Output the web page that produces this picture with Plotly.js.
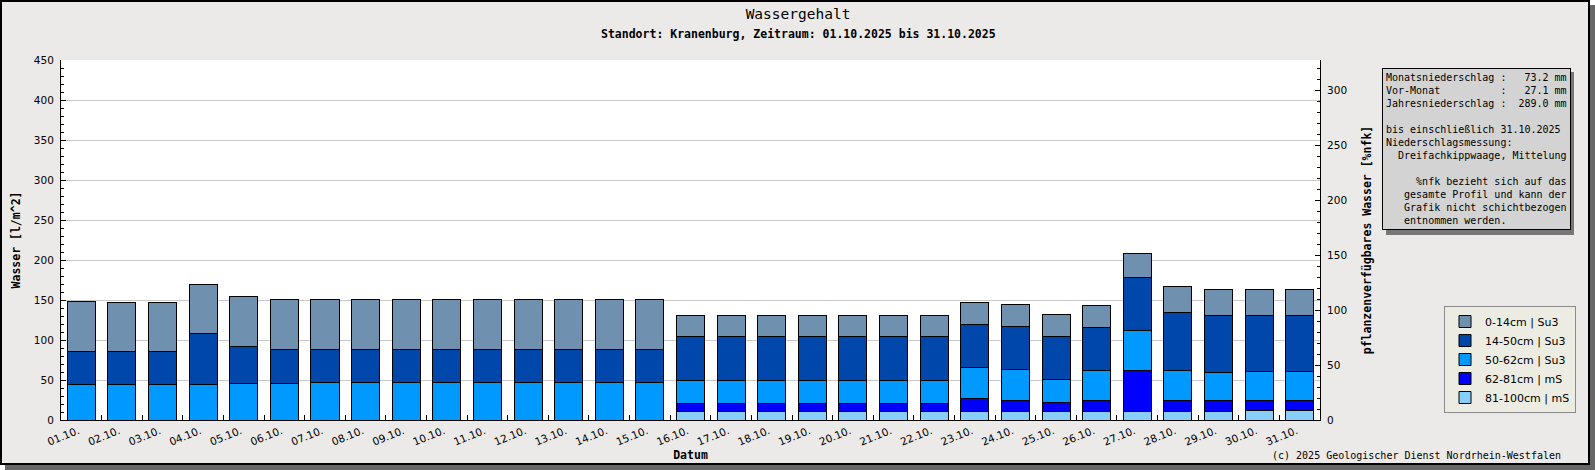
<!DOCTYPE html>
<html>
<head>
<meta charset="utf-8">
<script src="https://cdn.plot.ly/plotly-3.0.1.min.js"></script>
<style>
  body { margin: 0; background: #ffffff; }
  #frame {
    position: absolute; left: 0; top: 0;
    width: 1586px; height: 461px;
    border: 2px solid #000;
    box-shadow: 5px 5px 0 #666;
    background: #eceae8;
  }
  #chart { width: 1586px; height: 461px; }
</style>
</head>
<body>
<div id="frame"><div id="chart"></div></div>
<script>
var days = ['01.10.','02.10.','03.10.','04.10.','05.10.','06.10.','07.10.','08.10.','09.10.','10.10.',
            '11.10.','12.10.','13.10.','14.10.','15.10.','16.10.','17.10.','18.10.','19.10.','20.10.',
            '21.10.','22.10.','23.10.','24.10.','25.10.','26.10.','27.10.','28.10.','29.10.','30.10.','31.10.']

// water per layer [l/m^2], bottom layer first
var layer_81_100 = [0,0,0,0,0,0,0,0,0,0, 0,0,0,0,0,10.4,10.4,10.4,10.4,10.4,
                    10.4,10.4,10.4,10.4,10.4,10.4,10.4,10.4,10.4,11.7,11.7]
var layer_62_81  = [0,0,0,0,0,0,0,0,0,0, 0,0,0,0,0,10.4,10.4,10.4,10.4,10.4,
                    10.4,10.4,15.9,14.2,10.9,14.2,50.9,14.2,14.2,12.9,12.9]
var layer_50_62  = [44.2,44.2,44.2,44.2,45.8,45.8,47.1,47.1,47.1,47.1, 47.1,47.1,47.1,47.1,47.1,28.8,28.8,28.8,28.8,28.8,
                    28.8,28.8,39.6,38.7,29.6,37.5,50.9,37.5,35.0,36.2,36.2]
var layer_14_50  = [41.7,41.7,41.7,64.1,46.3,42.5,41.2,41.2,41.2,41.2, 41.2,41.2,41.2,41.2,41.2,54.8,54.8,54.8,54.8,54.8,
                    54.8,54.8,53.8,53.8,53.8,53.7,66.2,72.5,71.2,70.0,70.0]
var layer_0_14   = [62.5,61.2,61.2,61.3,62.5,62.5,62.5,62.5,62.5,62.5, 62.5,62.5,62.5,62.5,62.5,26.4,26.4,26.4,26.4,26.4,
                    26.4,26.4,27.5,27.5,27.5,27.5,30.0,32.5,32.5,32.5,32.5]

var layer_names  = ['81-100cm | mS','62-81cm | mS','50-62cm | Su3','14-50cm | Su3','0-14cm | Su3']
var layer_colors = ['#87cefa','#0000ff','#0099ff','#0047ab','#7090b0']
var layer_values = [layer_81_100, layer_62_81, layer_50_62, layer_14_50, layer_0_14]

var info_lines = [
    'Monatsniederschlag :   73.2 mm',
    'Vor-Monat          :   27.1 mm',
    'Jahresniederschlag :  289.0 mm',
    '',
    'bis einschließlich 31.10.2025',
    'Niederschlagsmessung:',
    '  Dreifachkippwaage, Mittelung',
    '',
    '     %nfk bezieht sich auf das',
    '   gesamte Profil und kann der',
    '   Grafik nicht schichtbezogen',
    '   entnommen werden.'
]

// plot area in page pixels, used to place boxes outside of it
var PL = 61, PR = 1320, PT = 60, PB = 420
function px(x){ return (x - PL) / (PR - PL) }
function py(y){ return (PB - y) / (PB - PT) }

var mono = 'DejaVu Sans Mono, monospace'
var sans = 'DejaVu Sans, sans-serif'

var traces = []
for (let i = 0; i < layer_values.length; i++){
    traces.push({
        x: days,
        y: layer_values[i],
        name: layer_names[i],
        type: 'bar',
        marker: {color: layer_colors[i], line: {color: '#000', width: 1}},
        hoverinfo: 'x+y+name'
    })
}
// empty trace so that the right axis gets drawn
traces.push({x: [], y: [], yaxis: 'y2', type: 'scatter', showlegend: false})

var layout = {
    width: 1586,
    height: 461,
    margin: {l: PL - 2, r: 1588 - PR, t: PT - 2, b: 463 - PB},
    paper_bgcolor: '#eceae8',
    plot_bgcolor: '#ffffff',
    barmode: 'stack',
    bargap: 0.31,
    title: {
        text: 'Wassergehalt',
        font: {family: mono, size: 14.5, color: '#000'},
        x: 0.5019, xref: 'container', xanchor: 'center',
        y: 0.9733, yref: 'container', yanchor: 'middle'
    },
    xaxis: {
        type: 'category',
        tickson: 'boundaries',
        ticks: 'inside', ticklen: 5, tickcolor: '#000',
        tickangle: -22,
        ticklabelshift: -3,
        tickfont: {family: sans, size: 10.5, color: '#000'},
        showline: true, linecolor: '#000', linewidth: 1,
        showgrid: false,
        title: {text: 'Datum', font: {family: mono, size: 11.5, color: '#000', weight: 'bold'}, standoff: 4}
    },
    yaxis: {
        range: [0, 450],
        dtick: 50,
        ticks: 'inside', ticklen: 5, tickcolor: '#000',
        minor: {dtick: 10, ticks: 'inside', ticklen: 3, tickcolor: '#000', showgrid: false},
        tickfont: {family: sans, size: 10.5, color: '#000'},
        ticklabelstandoff: 4,
        showline: true, linecolor: '#000', linewidth: 1,
        gridcolor: '#c8c8c8',
        zeroline: false,
        title: {text: 'Wasser [l/m^2]', font: {family: mono, size: 11.5, color: '#000', weight: 'bold'}, standoff: 10}
    },
    yaxis2: {
        overlaying: 'y',
        side: 'right',
        range: [0, 327.27],
        dtick: 50,
        ticks: 'inside', ticklen: 5, tickcolor: '#000',
        minor: {dtick: 10, ticks: 'inside', ticklen: 3, tickcolor: '#000'},
        tickfont: {family: sans, size: 10.5, color: '#000'},
        ticklabelstandoff: 4,
        showline: true, linecolor: '#000', linewidth: 1,
        showgrid: false,
        zeroline: false,
        title: {text: 'pflanzenverfügbares Wasser [%nfk]', font: {family: mono, size: 11.5, color: '#000', weight: 'bold'}, standoff: 16}
    },
    legend: {
        x: px(1444), xanchor: 'left',
        y: py(306), yanchor: 'top',
        traceorder: 'reversed',
        bgcolor: '#ecece2',
        bordercolor: '#8a8a8a',
        borderwidth: 1,
        font: {family: sans, size: 11, color: '#000'}
    },
    shapes: [
        // drop shadows of the info box and the legend
        {type: 'rect', xref: 'paper', yref: 'paper', x0: px(1386), x1: px(1574), y0: py(235), y1: py(72),
         fillcolor: '#777', line: {width: 0}, layer: 'above'},
        {type: 'rect', xref: 'paper', yref: 'paper', x0: px(1448), x1: px(1573), y0: py(402), y1: py(310),
         fillcolor: '#777', line: {width: 0}, layer: 'above'}
    ],
    annotations: [
        {
            text: '<b>Standort: Kranenburg, Zeitraum: 01.10.2025 bis 31.10.2025</b>',
            xref: 'paper', yref: 'paper', x: px(798), y: py(34.3),
            xanchor: 'center', yanchor: 'middle', showarrow: false,
            font: {family: mono, size: 11.5, color: '#000'}
        },
        {
            text: info_lines.map(l => l.replace(/ /g, '\u00a0')).join('<br>'),
            xref: 'paper', yref: 'paper', x: px(1382), y: py(68),
            xanchor: 'left', yanchor: 'top', align: 'left', showarrow: false,
            bgcolor: '#d3d3d3', bordercolor: '#000', borderwidth: 1, borderpad: 3,
            font: {family: mono, size: 10, color: '#000'}
        },
        {
            text: '(c) 2025 Geologischer Dienst Nordrhein-Westfalen',
            xref: 'paper', yref: 'paper', x: px(1563), y: py(455),
            xanchor: 'right', yanchor: 'middle', showarrow: false,
            font: {family: mono, size: 10, color: '#000'}
        }
    ]
}

Plotly.newPlot('chart', traces, layout, {displayModeBar: false, staticPlot: true})
</script>
</body>
</html>
